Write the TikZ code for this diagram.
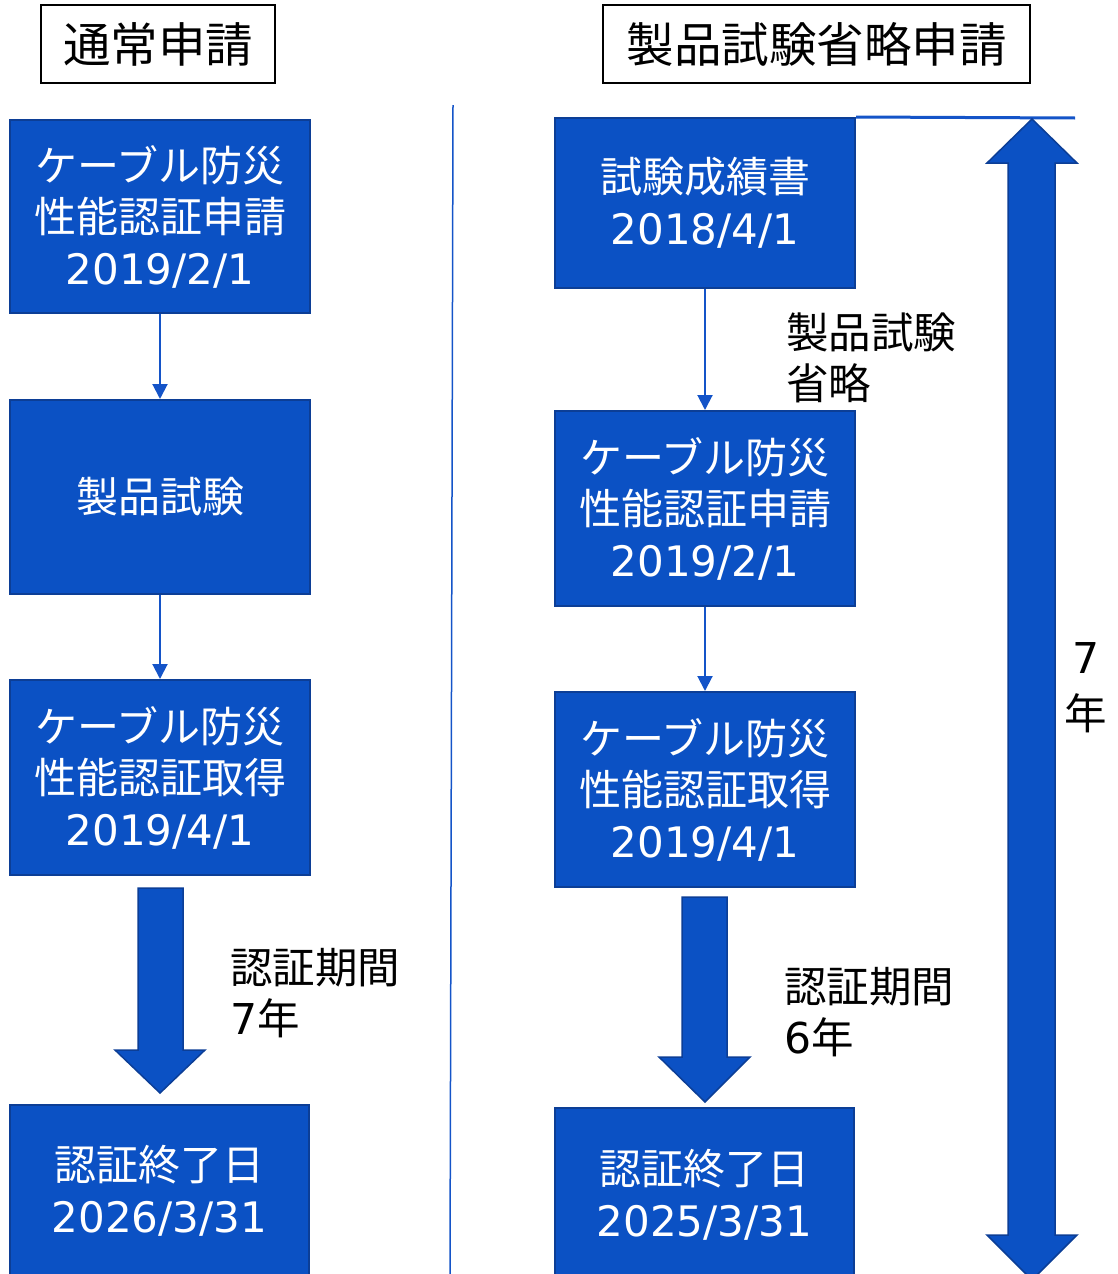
\documentclass[tikz,border=0pt]{standalone}
\usepackage{fontspec}
\setmainfont{Noto Sans CJK JP}
\newfontfamily\dv{DejaVu Sans}
\usetikzlibrary{arrows.meta}
\definecolor{boxfill}{RGB}{11,81,196}
\definecolor{boxline}{RGB}{12,62,150}
\definecolor{linkblue}{RGB}{20,84,200}
\tikzset{
  bluebox/.style={draw=boxline, line width=2pt, fill=boxfill, text=white, align=center,
    minimum width=300pt, inner sep=0pt, font=\fontsize{42}{51.5}\selectfont},
  titlebox/.style={draw=black, line width=1.5pt, fill=white, inner sep=0pt,
    font=\fontsize{47.5}{52}\selectfont},
  link/.style={draw=linkblue, line width=2pt, -{Triangle[width=15pt,length=15pt]}},
  lbl/.style={inner sep=0pt, align=left, font=\fontsize{42.5}{51}\selectfont},
  blockarrow/.style={fill=boxfill, draw=boxline, line width=1.5pt, line join=miter},
}
\begin{document}
\begin{tikzpicture}[x=1pt,y=-1pt]
\useasboundingbox (0,0) rectangle (1117,1274);
% titles
\node[titlebox, minimum width=234pt, minimum height=78pt] (t1) at (158,44) {通常申請};
\node[titlebox, minimum width=427pt, minimum height=78pt] (t2) at (816.5,44) {製品試験省略申請};
% separator
\coordinate (s1) at (453,105);
\coordinate (s2) at (450,1274);
\draw[linkblue, line width=1.5pt] (s1) -- (s2);
% left column
\node[bluebox, minimum height=193pt] (L1) at (160,216.5) {ケーブル防災\\性能認証申請\\{\dv 2019/2/1}};
\node[bluebox, minimum height=194pt] (L2) at (160,497) {製品試験};
\node[bluebox, minimum height=195pt] (L3) at (160,777.5) {ケーブル防災\\性能認証取得\\{\dv 2019/4/1}};
\node[bluebox, minimum height=172pt, minimum width=299pt] (L4) at (159.5,1191) {認証終了日\\{\dv 2026/3/31}};
\draw[link] (L1.south) -- (L2.north);
\draw[link] (L2.south) -- (L3.north);
\draw[blockarrow] (138,888) -- (183,888) -- (183,1050) -- (205,1050) -- (160,1093)
  -- (115,1050) -- (138,1050) -- cycle;
\node[lbl, anchor=west] (lab1) at (230,993) {認証期間\\{\dv 7}年};
% right column
\node[bluebox, minimum height=170pt] (R1) at (705,203) {試験成績書\\{\dv 2018/4/1}};
\node[bluebox, minimum height=195pt] (R2) at (705,508.5) {ケーブル防災\\性能認証申請\\{\dv 2019/2/1}};
\node[bluebox, minimum height=195pt] (R3) at (705,789.5) {ケーブル防災\\性能認証取得\\{\dv 2019/4/1}};
\node[bluebox, minimum height=174pt, minimum width=299pt] (R4) at (704.5,1195) {認証終了日\\{\dv 2025/3/31}};
\draw[link] (R1.south) -- (R2.north);
\draw[link] (R2.south) -- (R3.north);
\node[lbl, anchor=west] (lab2) at (786,358) {製品試験\\省略};
\draw[blockarrow] (682,897) -- (727,897) -- (727,1057) -- (750,1057) -- (705,1102)
  -- (659,1057) -- (682,1057) -- cycle;
\node[lbl, anchor=west] (lab3) at (784,1012) {認証期間\\{\dv 6}年};
% top line and double arrow
\coordinate (h2) at (1075,118);
\draw[linkblue, line width=3pt] (R1.north east) -- (h2);
\draw[blockarrow] (1032,119) -- (1077,163) -- (1055,163) -- (1055,1235) -- (1077,1235)
  -- (1032,1280) -- (987,1235) -- (1008,1235) -- (1008,163) -- (987,163) -- cycle;
\node[lbl, align=center, font=\fontsize{42.5}{56}\selectfont] (lab4) at (1086,688) {{\dv 7}\\年};
\end{tikzpicture}
\end{document}
